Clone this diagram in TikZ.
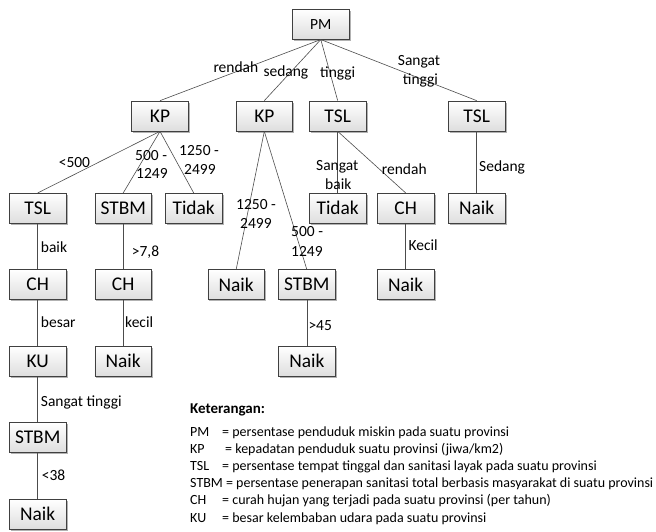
\documentclass[tikz,border=0pt]{standalone}
\usepackage{fontspec}
\setmainfont{Carlito}
\usetikzlibrary{shadows}
\begin{document}
\begin{tikzpicture}[x=1pt,y=-1pt,
  box/.style={draw=black!75, line width=0.7pt, top color=white, bottom color=black!13,
    minimum width=56.7pt, minimum height=30pt, inner sep=0pt,
    font=\fontsize{19.4}{23}\selectfont,
    drop shadow={shadow xshift=1.6pt, shadow yshift=-1.6pt, fill=black!30, opacity=1}},
  pmbox/.style={box, font=\fontsize{15.5}{19}\selectfont},
  edge/.style={draw=black!70, line width=0.6pt},
  lbl/.style={font=\fontsize{15.5}{19}\selectfont, inner sep=0pt, anchor=base west},
  leg/.style={font=\fontsize{14}{17}\selectfont, inner sep=0pt, anchor=base west},
  legh/.style={leg, font=\fontsize{15}{18}\selectfont\bfseries}
]
\useasboundingbox (0,0) rectangle (656,531);

% level 0
\node[pmbox] (pm) at (320.8,24.2) {PM};
% level 1
\node[box] (kp1) at (160,116) {KP};
\node[box] (kp2) at (264.3,116) {KP};
\node[box] (tsl2) at (337.7,116) {TSL};
\node[box] (tsl3) at (476.7,116) {TSL};
% level 2
\node[box] (tsl1) at (37.7,208.3) {TSL};
\node[box] (stbm1) at (123.2,208.3) {STBM};
\node[box] (tidak1) at (193.7,208.3) {Tidak};
\node[box] (tidak2) at (337.7,208.3) {Tidak};
\node[box] (ch3) at (405.7,208.3) {CH};
\node[box] (naik6) at (476.7,208.3) {Naik};
% level 3
\node[box] (ch1) at (37.7,284.7) {CH};
\node[box] (ch2) at (123.2,284.7) {CH};
\node[box] (naik3) at (236.2,284.7) {Naik};
\node[box] (stbm3) at (306.8,284.7) {STBM};
\node[box] (naik5) at (405.7,284.7) {Naik};
% level 4
\node[box] (ku) at (37.7,361.2) {KU};
\node[box] (naik2) at (123.2,361.2) {Naik};
\node[box] (naik4) at (306.8,361.2) {Naik};
% level 5, 6
\node[box] (stbm2) at (37.7,437.7) {STBM};
\node[box] (naik1) at (37.7,514.3) {Naik};

% edges
\draw[edge] (pm.south) -- (kp1.north);
\draw[edge] (pm.south) -- (kp2.north);
\draw[edge] (pm.south) -- (tsl2.north);
\draw[edge] (pm.south) -- (tsl3.north);
\draw[edge] (kp1.south) -- (tsl1.north);
\draw[edge] (kp1.south) -- (stbm1.north);
\draw[edge] (kp1.south) -- (tidak1.north);
\draw[edge] (kp2.south) -- (naik3.north);
\draw[edge] (kp2.south) -- (stbm3.north);
\draw[edge] (tsl2.south) -- (tidak2.north);
\draw[edge] (tsl2.south) -- (ch3.north);
\draw[edge] (tsl3.south) -- (naik6.north);
\draw[edge] (tsl1.south) -- (ch1.north);
\draw[edge] (ch1.south) -- (ku.north);
\draw[edge] (ku.south) -- (stbm2.north);
\draw[edge] (stbm2.south) -- (naik1.north);
\draw[edge] (stbm1.south) -- (ch2.north);
\draw[edge] (ch2.south) -- (naik2.north);
\draw[edge] (stbm3.south) -- (naik4.north);
\draw[edge] (ch3.south) -- (naik5.north);

% edge labels
\node[lbl] (l1) at (213.3,72.7) {rendah};
\node[lbl] (l2) at (263.3,76) {sedang};
\node[lbl] (l3) at (320,77.3) {tinggi};
\node[lbl] (l4a) at (397.7,65.7) {Sangat};
\node[lbl] (l4b) at (402.7,84.5) {tinggi};
\node[lbl] (l5) at (58.6,167.7) {<500};
\node[lbl] (l6a) at (135,160) {500 -};
\node[lbl] (l6b) at (136,178) {1249};
\node[lbl] (l7a) at (179,155) {1250 -};
\node[lbl] (l7b) at (184,174) {2499};
\node[lbl] (l8a) at (316,170) {Sangat};
\node[lbl] (l8b) at (325,189.3) {baik};
\node[lbl] (l9) at (381.7,174) {rendah};
\node[lbl] (l10) at (479,171.7) {Sedang};
\node[lbl] (l11a) at (236,209.3) {1250 -};
\node[lbl] (l11b) at (240,228.3) {2499};
\node[lbl] (l12a) at (291,236.7) {500 -};
\node[lbl] (l12b) at (291,256.7) {1249};
\node[lbl] (l13) at (40.7,252.7) {baik};
\node[lbl] (l14) at (131.7,256) {>7,8};
\node[lbl] (l15) at (408.3,250) {Kecil};
\node[lbl] (l16) at (40.7,327.3) {besar};
\node[lbl] (l17) at (125,327.3) {kecil};
\node[lbl] (l18) at (308.3,330) {>45};
\node[lbl] (l19) at (40.7,406) {Sangat tinggi};
\node[lbl] (l20) at (41.7,480) {<38};

% legend
\node[legh] (kt) at (190,413) {Keterangan:};
\node[leg] (a1) at (190,436.5) {PM};
\node[leg] (b1) at (222,436.5) {= persentase penduduk miskin pada suatu provinsi};
\node[leg] (a2) at (190,453.6) {KP};
\node[leg] (b2) at (225,453.6) {= kepadatan penduduk suatu provinsi (jiwa/km2)};
\node[leg] (a3) at (190,470.7) {TSL};
\node[leg] (b3) at (222,470.7) {= persentase tempat tinggal dan sanitasi layak pada suatu provinsi};
\node[leg] (a4) at (190,487.8) {STBM = persentase penerapan sanitasi total berbasis masyarakat di suatu provinsi};
\node[leg] (a5) at (190,504.9) {CH};
\node[leg] (b5) at (222,504.9) {= curah hujan yang terjadi pada suatu provinsi (per tahun)};
\node[leg] (a6) at (190,522) {KU};
\node[leg] (b6) at (222,522) {= besar kelembaban udara pada suatu provinsi};
\end{tikzpicture}
\end{document}
